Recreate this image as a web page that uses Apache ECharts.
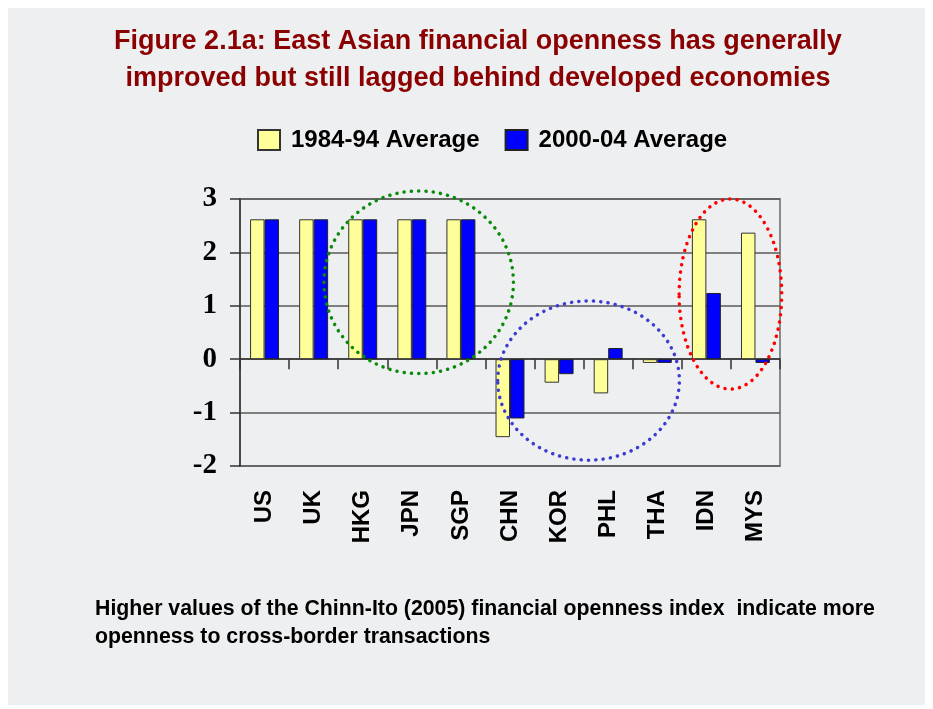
<!DOCTYPE html>
<html>
<head>
<meta charset="utf-8">
<script src="https://cdn.jsdelivr.net/npm/echarts@6/dist/echarts.min.js"></script>
<style>
  html, body { margin: 0; padding: 0; background: #ffffff; }
  #chart { width: 933px; height: 709px; }
</style>
</head>
<body>
<div id="chart"></div>
<script>
// Chinn-Ito financial openness index by economy
const economies = ['US', 'UK', 'HKG', 'JPN', 'SGP', 'CHN', 'KOR', 'PHL', 'THA', 'IDN', 'MYS'];
const avg1984to94 = [2.62, 2.62, 2.62, 2.62, 2.62, -1.46, -0.44, -0.64, -0.07, 2.62, 2.37];
const avg2000to04 = [2.62, 2.62, 2.62, 2.62, 2.62, -1.11, -0.28, 0.21, -0.07, 1.24, -0.07];
const seriesNames = ['1984-94 Average', '2000-04 Average'];
const yTicks = { min: -2, max: 3, step: 1 };

// Highlight groups: centre (category index, value) and radii (categories, value units)
const groupRings = [
  { color: '#0a8a0a', cx: 3.14, cy: 1.44, rx: 1.93, ry: 1.71 },
  { color: '#3c3cd2', cx: 6.60, cy: -0.40, rx: 1.85, ry: 1.49 },
  { color: '#ff0000', cx: 9.49, cy: 1.22, rx: 1.045, ry: 1.78 }
];

const titleText = 'Figure 2.1a: East Asian financial openness has generally\nimproved but still lagged behind developed economies';
const noteText = 'Higher values of the Chinn-Ito (2005) financial openness index  indicate more\nopenness to cross-border transactions';

const sans = '"Liberation Sans", Arial, sans-serif';
const serif = '"Liberation Serif", "Times New Roman", serif';

const chart = echarts.init(document.getElementById('chart'), null, { renderer: 'canvas' });

chart.setOption({
  backgroundColor: '#ffffff',
  animation: false,
  title: [
    {
      text: titleText,
      left: 478,
      top: 23,
      padding: 0,
      textAlign: 'center',
      textStyle: { fontFamily: sans, fontSize: 27, fontWeight: 'bold', color: '#8b0000', lineHeight: 37 }
    },
    {
      text: noteText,
      left: 95,
      top: 595,
      padding: 0,
      textStyle: { fontFamily: sans, fontSize: 21.3, fontWeight: 'bold', color: '#000000', lineHeight: 28 }
    }
  ],
  legend: {
    data: seriesNames,
    left: 257,
    top: 128,
    padding: 0,
    itemWidth: 22,
    itemHeight: 20,
    itemGap: 25,
    icon: 'rect',
    textStyle: { fontFamily: sans, fontSize: 24, fontWeight: 'bold', color: '#000000', padding: [0, 0, 0, 6] }
  },
  grid: {
    left: 240,
    right: 153,
    top: 199,
    bottom: 243,
    show: true,
    borderColor: '#8a8a8a',
    borderWidth: 2,
    backgroundColor: 'transparent'
  },
  xAxis: [
    {
      type: 'category',
      data: economies,
      position: 'bottom',
      axisLine: { show: false, onZero: false },
      axisTick: { show: false },
      axisLabel: {
        rotate: 90,
        margin: 24,
        interval: 0,
        fontFamily: sans,
        fontSize: 24,
        fontWeight: 'bold',
        color: '#000000'
      },
      splitLine: { show: false }
    },
    {
      type: 'category',
      data: economies,
      position: 'top',
      axisLine: { show: true, onZero: true, lineStyle: { color: '#333333', width: 1.5 } },
      axisTick: { show: true, inside: true, length: 10, interval: 0, lineStyle: { color: '#333333', width: 1.5 } },
      axisLabel: { show: false },
      splitLine: { show: false }
    }
  ],
  yAxis: {
    type: 'value',
    min: yTicks.min,
    max: yTicks.max,
    interval: yTicks.step,
    axisLine: { show: true, lineStyle: { color: '#333333', width: 1.5 } },
    axisTick: { show: true, length: 10, lineStyle: { color: '#333333', width: 1.5 } },
    axisLabel: {
      margin: 23,
      fontFamily: serif,
      fontSize: 29,
      fontWeight: 'bold',
      color: '#000000'
    },
    splitLine: { show: true, lineStyle: { color: '#5a5a5a', width: 1.5 } }
  },
  series: [
    {
      name: seriesNames[0],
      type: 'bar',
      xAxisIndex: 0,
      data: avg1984to94,
      barGap: '0%',
      barCategoryGap: '41%',
      itemStyle: { color: '#ffff99', borderColor: '#333333', borderWidth: 1 }
    },
    {
      name: seriesNames[1],
      type: 'bar',
      xAxisIndex: 0,
      data: avg2000to04,
      barGap: '0%',
      barCategoryGap: '41%',
      itemStyle: { color: '#0000ff', borderColor: '#222222', borderWidth: 1 }
    }
  ]
});

// Light panel behind the figure, and dotted rings around economy groups
function drawOverlays() {
  const toPx = (x, y) => chart.convertToPixel({ xAxisIndex: 0, yAxisIndex: 0 }, [x, y]);
  // category positions are whole indices; fractional positions are interpolated
  const p0 = toPx(0, 0);
  const p1 = toPx(1, 1);
  const xPx = (i) => p0[0] + i * (p1[0] - p0[0]);
  const yPx = (v) => p0[1] + v * (p1[1] - p0[1]);
  const rings = groupRings.map((g, i) => ({
    type: 'ellipse',
    id: 'ring' + i,
    z: 100,
    silent: true,
    shape: {
      cx: xPx(g.cx),
      cy: yPx(g.cy),
      rx: Math.abs(xPx(g.cx + g.rx) - xPx(g.cx)),
      ry: Math.abs(yPx(g.cy + g.ry) - yPx(g.cy))
    },
    style: { fill: 'none', stroke: g.color, lineWidth: 3.5, lineDash: [0.1, 7.2], lineCap: 'round' }
  }));
  chart.setOption({
    graphic: [
      {
        type: 'rect',
        id: 'panel',
        z: -100,
        silent: true,
        shape: { x: 8, y: 8, width: 917, height: 697 },
        style: { fill: '#eeeff1' }
      }
    ].concat(rings)
  });
}
drawOverlays();
</script>
</body>
</html>
